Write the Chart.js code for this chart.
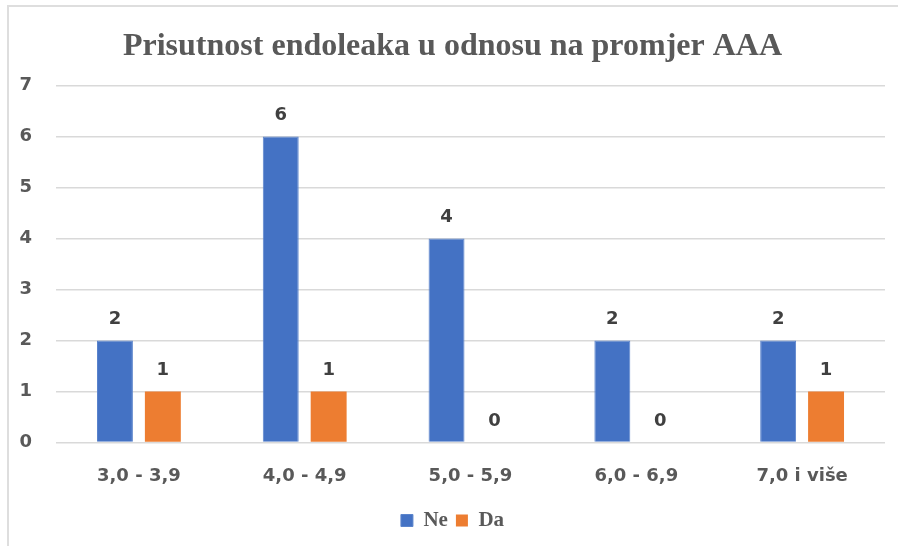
<!DOCTYPE html>
<html>
<head>
<meta charset="utf-8">
<script src="https://cdn.jsdelivr.net/npm/chart.js@4"></script>
<style>
    html, body { margin: 0; padding: 0; background: #fff; overflow: hidden; }
    #frame {
        position: absolute; left: 7px; top: 5px; width: 1000px; height: 1000px;
        border-left: 2px solid #dedede; border-top: 2px solid #dedede;
    }
    #wrap { position: absolute; left: 0; top: 0; width: 898px; height: 546px; }
</style>
</head>
<body>
<div id="frame"></div>
<div id="wrap"><canvas id="chart" width="898" height="546"></canvas></div>
<script>
const categories = ['3,0 - 3,9', '4,0 - 4,9', '5,0 - 5,9', '6,0 - 6,9', '7,0 i više'];
const neValues = [2, 6, 4, 2, 2];
const daValues = [1, 1, 0, 0, 1];
const yTicks = ['0', '1', '2', '3', '4', '5', '6', '7'];

const labelFont = { family: 'DejaVu Sans', size: 18, weight: 'bold' };

// values over the bars
const valueLabels = {
    id: 'valueLabels',
    afterDatasetsDraw(chart) {
        const ctx = chart.ctx;
        ctx.save();
        ctx.font = 'bold 18px "DejaVu Sans"';
        ctx.fillStyle = '#404040';
        ctx.textAlign = 'center';
        ctx.textBaseline = 'middle';
        chart.data.datasets.forEach((ds, i) => {
            chart.getDatasetMeta(i).data.forEach((bar, j) => {
                ctx.fillText(String(ds.data[j]), bar.x, bar.y - 21);
            });
        });
        ctx.restore();
    }
};

const chartCtx = document.getElementById('chart').getContext('2d');

new Chart(chartCtx, {
    type: 'bar',
    data: {
        labels: categories,
        datasets: [{
            label: 'Ne',
            data: neValues,
            backgroundColor: '#4472C4',
            borderColor: '#5b84cc',
            borderWidth: 1
        }, {
            label: 'Da',
            data: daValues,
            backgroundColor: '#ED7D31',
            borderWidth: 0
        }]
    },
    options: {
        responsive: false,
        animation: false,
        categoryPercentage: 0.578,
        barPercentage: 0.75,
        layout: {
            padding: { left: 20, right: 13, top: 19, bottom: 5 }
        },
        plugins: {
            title: {
                display: true,
                text: 'Prisutnost endoleaka u odnosu na promjer AAA',
                color: '#595959',
                font: { family: 'Liberation Serif', size: 32, weight: 'bold' },
                padding: { top: 9, bottom: 19 }
            },
            legend: {
                position: 'bottom',
                labels: {
                    color: '#595959',
                    boxWidth: 12,
                    boxHeight: 12,
                    padding: 8,
                    font: { family: 'Liberation Serif', size: 21, weight: 'bold' }
                }
            },
            tooltip: { enabled: false }
        },
        scales: {
            x: {
                grid: { display: false },
                border: { display: false },
                ticks: {
                    color: '#595959',
                    font: labelFont,
                    padding: 15,
                    maxRotation: 0
                }
            },
            y: {
                min: 0,
                max: 7,
                afterFit(scale) {
                    scale.width = 36;
                },
                grid: { color: '#d9d9d9', lineWidth: 1.5, drawTicks: false },
                border: { display: false },
                ticks: {
                    stepSize: 1,
                    autoSkip: false,
                    color: '#595959',
                    font: labelFont,
                    padding: 24,
                    callback: v => yTicks[v]
                }
            }
        }
    },
    plugins: [valueLabels]
});
</script>
</body>
</html>
